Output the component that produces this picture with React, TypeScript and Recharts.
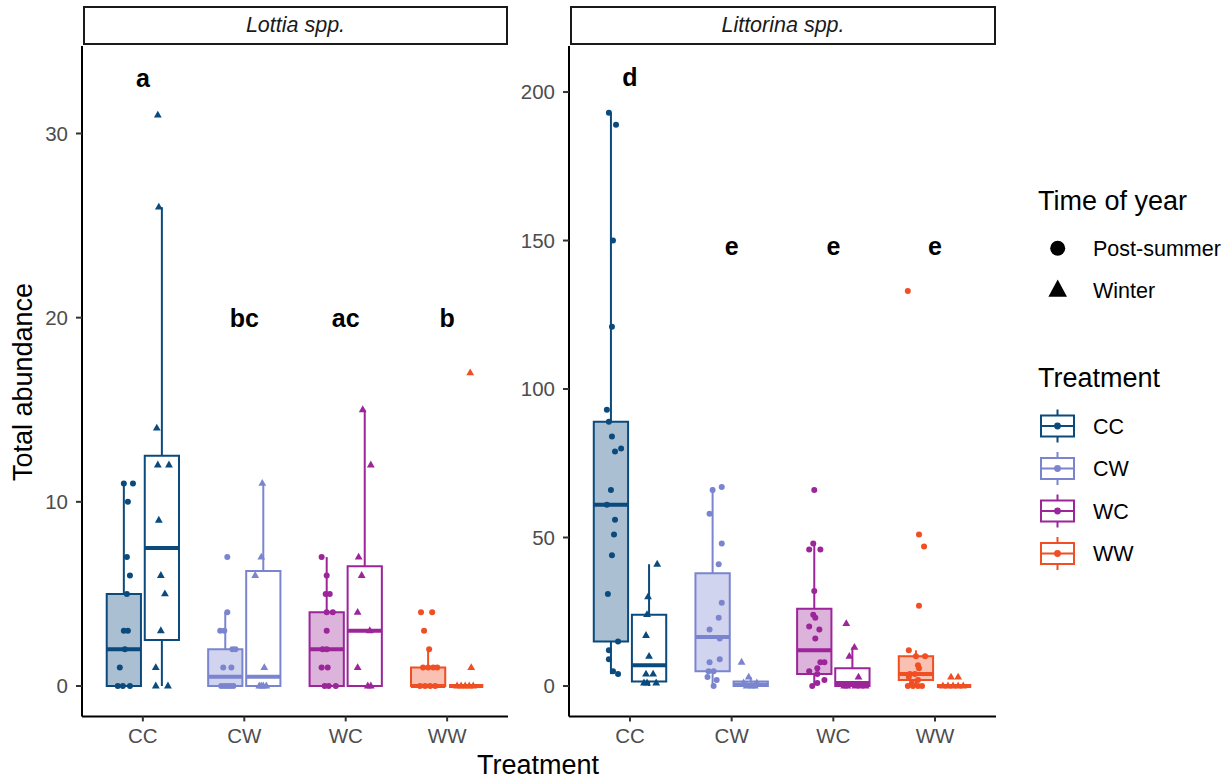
import React from "react";
import {
  ComposedChart,
  ReferenceArea,
  ReferenceLine,
  Scatter,
  XAxis,
  YAxis,
} from "recharts";

const FONT = "'Liberation Sans', Arial, sans-serif";

const TREATMENTS = ["CC", "CW", "WC", "WW"];
const TREATMENT_COLORS = ["#0B4A7D", "#7B85CF", "#9B2599", "#F04E23"];

// [lower whisker, Q1, median, Q3, upper whisker] per treatment
const LOTTIA_POST_BOX = [
  [0, 0, 2, 5, 11],
  [0, 0, 0.5, 2, 4],
  [0, 0, 2, 4, 7],
  [0, 0, 0, 1, 2],
];
const LOTTIA_WINTER_BOX = [
  [0, 2.5, 7.5, 12.5, 26],
  [0, 0, 0.5, 6.25, 11],
  [0, 0, 3, 6.5, 15],
  [0, 0, 0, 0, 0],
];
const LITTORINA_POST_BOX = [
  [4, 15, 61, 89, 193],
  [0, 5, 16.5, 38, 67],
  [0, 4, 12, 26, 48],
  [0, 2, 4, 10, 12],
];
const LITTORINA_WINTER_BOX = [
  [0, 1.5, 7, 24, 41],
  [0, 0, 0.5, 1.5, 3],
  [0, 0, 1, 6, 13],
  [0, 0, 0, 0, 0],
];

// raw observations: [abundance, jitter] per treatment
const LOTTIA_POST_POINTS = [
  [[11, 0], [11, 0.09], [10, 0.04], [7, 0.03], [6, 0.06], [5, 0.03], [3, 0], [3, 0.04], [2, 0.01], [1, -0.04], [0, -0.06], [0, -0.01], [0, 0.06]],
  [[7, 0.02], [4, 0.02], [3, -0.05], [3, -0.01], [2, 0.07], [2, 0.1], [1, -0.02], [1, 0.06], [0, -0.04], [0, -0.01], [0, 0.02], [0, 0.05], [0, 0.08]],
  [[7, -0.05], [6, 0], [5, -0.01], [5, 0.03], [4, 0], [4, 0.06], [3, 0], [2, -0.04], [2, 0], [1, -0.05], [1, 0.01], [0, -0.02], [0, 0.02], [0, 0.09]],
  [[4, -0.07], [4, 0.04], [3, -0.04], [2, 0.01], [1, -0.05], [1, 0], [1, 0.05], [1, 0.09], [0, -0.08], [0, -0.03], [0, 0.02], [0, 0.07]],
];
const LOTTIA_WINTER_POINTS = [
  [[31, -0.04], [26, -0.03], [14, -0.05], [12, -0.04], [12, 0.07], [9, -0.03], [6, -0.01], [5, 0.03], [3, -0.01], [1, -0.06], [0, -0.06], [0, 0.06]],
  [[11, -0.01], [7, -0.02], [6, -0.08], [1, 0.01], [0, -0.04], [0, -0.02], [0, 0], [0, 0.03]],
  [[15, -0.02], [12, 0.06], [7, -0.06], [6, -0.03], [4, -0.07], [3, 0.05], [1, -0.07], [0, 0.03], [0, 0.06]],
  [[17, 0.04], [1, 0.05], [0, -0.09], [0, -0.05], [0, -0.01], [0, 0.03], [0, 0.07]],
];
const LITTORINA_POST_POINTS = [
  [[193, -0.02], [189, 0.05], [150, 0.02], [121, 0.01], [93, -0.04], [89, -0.02], [84, 0.01], [80, 0.1], [79, 0.04], [66, 0], [61, -0.04], [56, 0.04], [51, 0.03], [44, 0.01], [31, -0.03], [15, 0.07], [12, -0.02], [9, -0.02], [5, 0.02], [4, 0.07]],
  [[67, 0.09], [66, 0], [58, -0.03], [48, 0.09], [41, 0.06], [28, 0.09], [23, 0.06], [19, -0.03], [16, 0.07], [9, 0.07], [8, -0.03], [5, -0.04], [5, 0.01], [3, -0.05], [2, 0.04], [0, 0.01]],
  [[66, 0], [48, -0.01], [46, -0.05], [46, 0.06], [32, 0], [24, -0.01], [23, 0.01], [20, -0.05], [19, 0.05], [16, 0.01], [8, 0.06], [8, 0.1], [6, 0.03], [5, -0.05], [4, 0.03], [2, 0.1], [1, 0.03], [0, -0.02]],
  [[133, -0.08], [51, 0.03], [47, 0.08], [27, 0.03], [12, -0.07], [10, 0], [10, 0.09], [7, 0.02], [6, 0.03], [4, -0.06], [4, -0.01], [3, -0.07], [2, 0.02], [1, -0.04], [0, -0.08], [0, -0.03], [0, 0.02], [0, 0.06]],
];
const LITTORINA_WINTER_POINTS = [
  [[41, 0.08], [30, -0.01], [24, -0.02], [17, -0.03], [10, 0], [4, -0.03], [4, 0.04], [1, -0.05], [1, -0.02], [1, 0.07]],
  [[8, -0.09], [3, -0.02], [1, 0.06], [1, -0.07], [0, -0.04], [0, 0.01], [0, 0.04]],
  [[21, -0.06], [13, 0.02], [10, -0.03], [3, 0.06], [0, -0.08], [0, -0.05], [0, 0.03], [0, 0.08], [0, 0.13]],
  [[3, -0.03], [3, 0.04], [0, -0.11], [0, -0.06], [0, -0.01], [0, 0.04], [0, 0.09]],
];

// significance letters
const LOTTIA_LETTERS = ["a", "bc", "ac", "b"];
const LOTTIA_LETTER_Y = [33, 20, 20, 20];
const LITTORINA_LETTERS = ["d", "e", "e", "e"];
const LITTORINA_LETTER_Y = [205, 148, 148, 148];

const LOTTIA_TICKS = [0, 10, 20, 30];
const LITTORINA_TICKS = [0, 50, 100, 150, 200];

const DODGE = 0.1875;
const HALF_BOX = 0.16875;
const LINE_W = 2;

const circleShape = (color: string) => (p: any) =>
  <circle cx={p.cx} cy={p.cy} r={3} fill={color} />;
const triangleShape = (color: string) => (p: any) =>
  <path d={`M${p.cx},${p.cy - 4.4}L${p.cx + 3.9},${p.cy + 2.4}L${p.cx - 3.9},${p.cy + 2.4}Z`} fill={color} />;
const letterShape = (p: any) => (
  <text x={p.cx} y={p.cy} textAnchor="middle" dominantBaseline="central" fontFamily={FONT} fontWeight="bold" fontSize={25} fill="#000">
    {p.payload.label}
  </text>
);

interface FacetProps {
  left: number;
  width: number;
  marginLeft: number;
  marginRight: number;
  yDomain: [number, number];
  yTicks: number[];
  postBox: number[][];
  winterBox: number[][];
  postPoints: number[][][];
  winterPoints: number[][][];
  letters: string[];
  letterY: number[];
}

function boxMarks(stats: number[][], season: number) {
  return stats.map((s, i) => {
    const [lo, q1, med, q3, hi] = s;
    const color = TREATMENT_COLORS[i];
    const cx = i + 1 + (season === 0 ? -DODGE : DODGE);
    return (
      <React.Fragment key={`box-${season}-${i}`}>
        {hi > q3 ? (
          <ReferenceLine segment={[{ x: cx, y: q3 }, { x: cx, y: hi }]} stroke={color} strokeWidth={LINE_W} />
        ) : null}
        {q1 > lo ? (
          <ReferenceLine segment={[{ x: cx, y: lo }, { x: cx, y: q1 }]} stroke={color} strokeWidth={LINE_W} />
        ) : null}
        <ReferenceArea
          x1={cx - HALF_BOX}
          x2={cx + HALF_BOX}
          y1={q1}
          y2={q3}
          fill={season === 0 ? color : "#FFFFFF"}
          fillOpacity={season === 0 ? 0.35 : 1}
          stroke={color}
          strokeWidth={LINE_W}
        />
        <ReferenceLine
          segment={[{ x: cx - HALF_BOX, y: med }, { x: cx + HALF_BOX, y: med }]}
          stroke={color}
          strokeWidth={4}
        />
      </React.Fragment>
    );
  });
}

function pointMarks(points: number[][][], season: number) {
  return points.map((group, i) => {
    const cx = i + 1 + (season === 0 ? -DODGE : DODGE);
    const data = group.map(([v, j]) => ({ x: cx + j, y: v }));
    const color = TREATMENT_COLORS[i];
    return (
      <Scatter
        key={`pts-${season}-${i}`}
        data={data}
        dataKey="y"
        shape={season === 0 ? circleShape(color) : triangleShape(color)}
        isAnimationActive={false}
      />
    );
  });
}

function Facet(props: FacetProps) {
  const letterData = props.letters.map((label, i) => ({ x: i + 1, y: props.letterY[i], label }));
  return (
    <div style={{ position: "absolute", left: props.left, top: 0 }}>
      <ComposedChart
        width={props.width}
        height={782}
        margin={{ top: 46, right: props.marginRight, bottom: 35.6, left: props.marginLeft }}
      >
        <XAxis
          type="number"
          dataKey="x"
          domain={[0.4, 4.6]}
          ticks={[1, 2, 3, 4]}
          interval={0}
          allowDataOverflow
          tickFormatter={(v: number) => TREATMENTS[v - 1]}
          tick={{ fill: "#4D4D4D", fontSize: 20.5, fontFamily: FONT }}
          tickSize={5}
          tickMargin={7}
          height={30}
          axisLine={{ stroke: "#000", strokeWidth: 2 }}
          tickLine={{ stroke: "#333", strokeWidth: 2 }}
        />
        <YAxis
          type="number"
          dataKey="y"
          domain={props.yDomain}
          ticks={props.yTicks}
          interval={0}
          allowDataOverflow
          tick={{ fill: "#4D4D4D", fontSize: 20.5, fontFamily: FONT }}
          tickSize={6}
          tickMargin={8}
          width={60}
          axisLine={{ stroke: "#000", strokeWidth: 2 }}
          tickLine={{ stroke: "#333", strokeWidth: 2 }}
        />
        {boxMarks(props.postBox, 0)}
        {boxMarks(props.winterBox, 1)}
        {pointMarks(props.postPoints, 0)}
        {pointMarks(props.winterPoints, 1)}
        <Scatter data={letterData} dataKey="y" shape={letterShape} isAnimationActive={false} />
      </ComposedChart>
    </div>
  );
}

const stripStyle: React.CSSProperties = {
  position: "absolute",
  top: 6,
  height: 39,
  boxSizing: "border-box",
  border: "2px solid #1A1A1A",
  display: "flex",
  alignItems: "center",
  justifyContent: "center",
  fontFamily: FONT,
  fontStyle: "italic",
  fontSize: 21.5,
  color: "#1A1A1A",
  background: "#fff",
};

function Legend() {
  const keys = TREATMENTS.map((t, i) => {
    const cy = 246 + i * 42.5;
    const c = TREATMENT_COLORS[i];
    return (
      <g key={t}>
        <line x1={37.5} x2={37.5} y1={cy - 16.5} y2={cy + 16.5} stroke={c} strokeWidth={2} />
        <rect x={21} y={cy - 10.5} width={33} height={21} fill="#fff" stroke={c} strokeWidth={2} />
        <line x1={21} x2={54} y1={cy} y2={cy} stroke={c} strokeWidth={2} />
        <circle cx={37.5} cy={cy} r={3.4} fill={c} />
        <text x={73} y={cy + 7.5} fontSize={21.5} fontFamily={FONT} fill="#000">{t}</text>
      </g>
    );
  });
  return (
    <svg width={210} height={400} style={{ position: "absolute", left: 1020, top: 180 }}>
      <text x={18} y={29.5} fontSize={27} fontFamily={FONT} fill="#000">Time of year</text>
      <circle cx={37.7} cy={68.3} r={7.5} fill="#000" />
      <text x={73} y={75.5} fontSize={21.5} fontFamily={FONT} fill="#000">Post-summer</text>
      <path d="M37.7,99.5L47,116.8L28.4,116.8Z" fill="#000" />
      <text x={73} y={118.3} fontSize={21.5} fontFamily={FONT} fill="#000">Winter</text>
      <text x={18} y={207} fontSize={27} fontFamily={FONT} fill="#000">Treatment</text>
      {keys}
    </svg>
  );
}

export default function App() {
  return (
    <div style={{ position: "absolute", left: 0, top: 0, width: 1230, height: 782, background: "#fff", overflow: "hidden" }}>
      <Facet
        left={0}
        width={520}
        marginLeft={22}
        marginRight={12}
        yDomain={[-1.65, 34.75]}
        yTicks={LOTTIA_TICKS}
        postBox={LOTTIA_POST_BOX}
        winterBox={LOTTIA_WINTER_BOX}
        postPoints={LOTTIA_POST_POINTS}
        winterPoints={LOTTIA_WINTER_POINTS}
        letters={LOTTIA_LETTERS}
        letterY={LOTTIA_LETTER_Y}
      />
      <Facet
        left={500}
        width={510}
        marginLeft={9}
        marginRight={14}
        yDomain={[-10.24, 215.5]}
        yTicks={LITTORINA_TICKS}
        postBox={LITTORINA_POST_BOX}
        winterBox={LITTORINA_WINTER_BOX}
        postPoints={LITTORINA_POST_POINTS}
        winterPoints={LITTORINA_WINTER_POINTS}
        letters={LITTORINA_LETTERS}
        letterY={LITTORINA_LETTER_Y}
      />
      <div style={{ ...stripStyle, left: 83, width: 425 }}>Lottia spp.</div>
      <div style={{ ...stripStyle, left: 570, width: 426 }}>Littorina spp.</div>
      <div
        style={{
          position: "absolute",
          left: 23,
          top: 382,
          transform: "translate(-50%, -50%) rotate(-90deg)",
          fontFamily: FONT,
          fontSize: 27,
          whiteSpace: "nowrap",
          color: "#000",
        }}
      >
        Total abundance
      </div>
      <div
        style={{
          position: "absolute",
          left: 538,
          top: 765,
          transform: "translate(-50%, -50%)",
          fontFamily: FONT,
          fontSize: 27,
          whiteSpace: "nowrap",
          color: "#000",
        }}
      >
        Treatment
      </div>
      <Legend />
    </div>
  );
}
